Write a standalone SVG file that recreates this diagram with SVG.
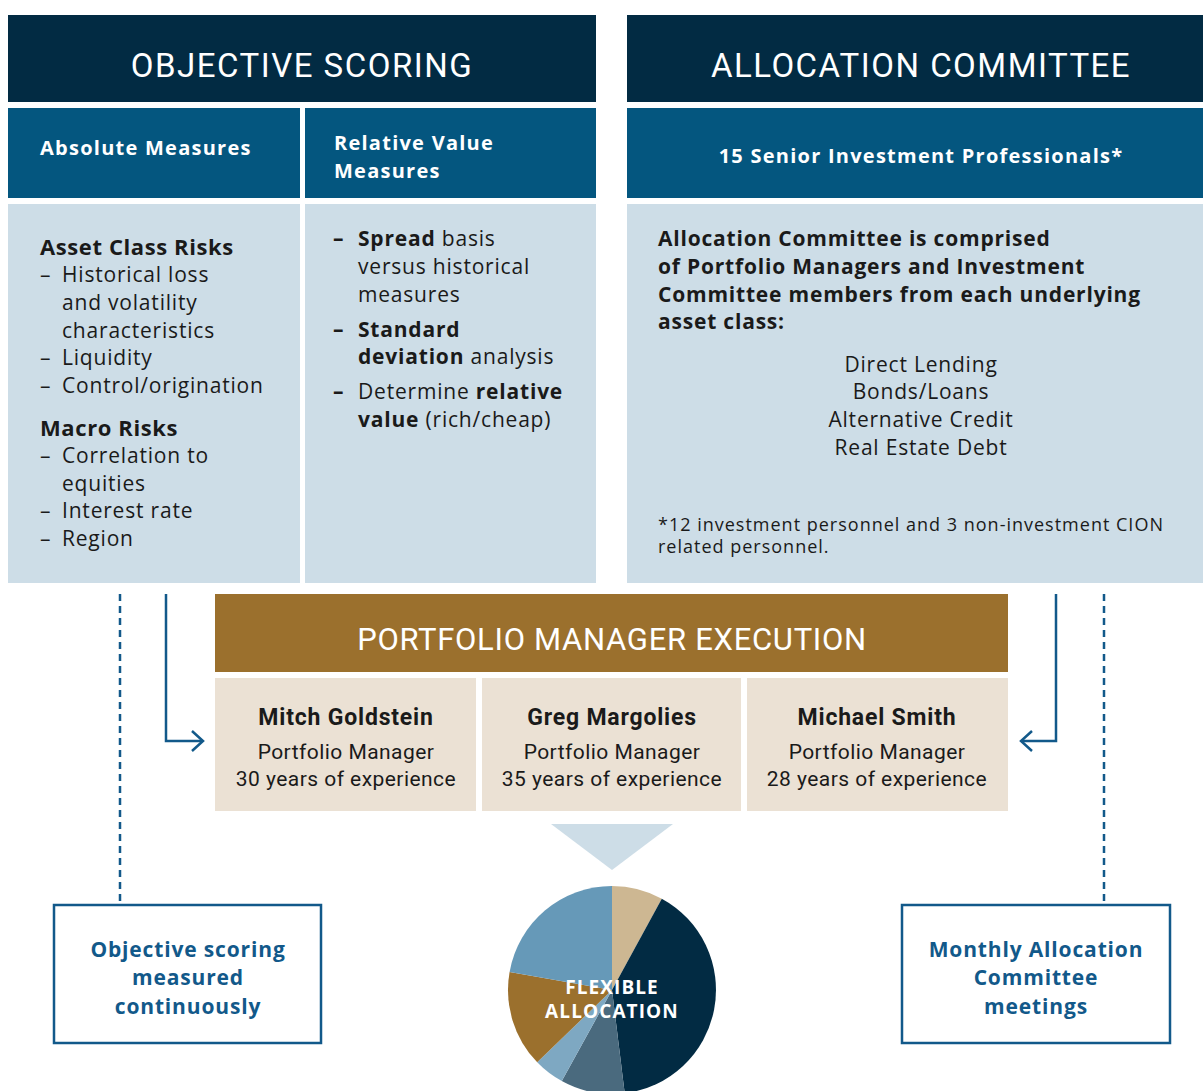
<svg xmlns="http://www.w3.org/2000/svg" width="1203" height="1091" viewBox="0 0 1203 1091">
<style>
.hd{fill:#022B43}
.sub{fill:#04567F}
.bd{fill:#CDDDE7}
.gold{fill:#9B702D}
.bg{fill:#EBE1D4}
.title{font-family:Roboto,"Liberation Sans",sans-serif;font-size:33px;letter-spacing:1.5px;fill:#fff;text-anchor:middle}
.gtitle{font-family:Roboto,"Liberation Sans",sans-serif;font-size:31px;letter-spacing:0.7px;fill:#fff;text-anchor:middle}
.subt{font-family:"Open Sans","Noto Sans","Liberation Sans",sans-serif;font-size:20px;font-weight:700;letter-spacing:1.25px;fill:#fff}
.body{font-family:"Open Sans","Noto Sans","Liberation Sans",sans-serif;font-size:21px;letter-spacing:0.8px;fill:#1A1A1A}
.b{font-weight:700}
.pm{font-family:Roboto,"Liberation Sans",sans-serif;fill:#1A1A1A;text-anchor:middle}
.pmn{font-size:23px;font-weight:700;letter-spacing:0.8px}
.pmr{font-size:21px;letter-spacing:0.45px}
.box{fill:#fff;stroke:#12598A;stroke-width:2.5}
.boxt{font-family:"Open Sans","Noto Sans","Liberation Sans",sans-serif;font-size:21px;font-weight:700;letter-spacing:0.85px;fill:#12598A;text-anchor:middle}
.pie{font-family:"Open Sans","Noto Sans","Liberation Sans",sans-serif;font-size:19px;font-weight:700;letter-spacing:1.1px;fill:#fff;text-anchor:middle}
.conn{fill:none;stroke:#12598A;stroke-width:2.5}
.dash{stroke-dasharray:7 5}
</style>
<rect width="1203" height="1091" fill="#fff"/>

<g id="objective-scoring">
<rect class="hd" x="8" y="15" width="588" height="87"/>
<text class="title" x="302" y="77">OBJECTIVE SCORING</text>
</g>

<g id="absolute-measures">
<rect class="sub" x="8" y="108" width="292" height="90"/>
<text class="subt" x="40" y="155">Absolute Measures</text>
<rect class="bd" x="8" y="204" width="292" height="379"/>
<g class="body">
<text class="b" x="40" y="255" style="font-size:22px;letter-spacing:0.6px">Asset Class Risks</text>
<text x="40" y="282">–</text><text x="62" y="282">Historical loss</text>
<text x="62" y="310">and volatility</text>
<text x="62" y="338">characteristics</text>
<text x="40" y="365">–</text><text x="62" y="365">Liquidity</text>
<text x="40" y="393">–</text><text x="62" y="393">Control/origination</text>
<text class="b" x="40" y="436" style="font-size:22px;letter-spacing:0.6px">Macro Risks</text>
<text x="40" y="463">–</text><text x="62" y="463">Correlation to</text>
<text x="62" y="491">equities</text>
<text x="40" y="518">–</text><text x="62" y="518">Interest rate</text>
<text x="40" y="546">–</text><text x="62" y="546">Region</text>
</g>
</g>

<g id="relative-value-measures">
<rect class="sub" x="305" y="108" width="291" height="90"/>
<text class="subt" x="334" y="150">Relative Value</text>
<text class="subt" x="334" y="178">Measures</text>
<rect class="bd" x="305" y="204" width="291" height="379"/>
<g class="body">
<text class="b" x="333" y="246">–</text><text x="358" y="246"><tspan class="b">Spread</tspan> basis</text>
<text x="358" y="274">versus historical</text>
<text x="358" y="302">measures</text>
<text class="b" x="333" y="337">–</text><text class="b" x="358" y="337">Standard</text>
<text x="358" y="364"><tspan class="b">deviation</tspan> analysis</text>
<text class="b" x="333" y="399">–</text><text x="358" y="399">Determine <tspan class="b">relative</tspan></text>
<text x="358" y="427"><tspan class="b">value</tspan> (rich/cheap)</text>
</g>
</g>

<g id="allocation-committee">
<rect class="hd" x="627" y="15" width="576" height="87"/>
<text class="title" x="921" y="77">ALLOCATION COMMITTEE</text>
<rect class="sub" x="627" y="108" width="576" height="90"/>
<text class="subt" x="921" y="163" text-anchor="middle">15 Senior Investment Professionals*</text>
<rect class="bd" x="627" y="204" width="576" height="379"/>
<g class="body">
<text class="b" x="658" y="246">Allocation Committee is comprised</text>
<text class="b" x="658" y="274">of Portfolio Managers and Investment</text>
<text class="b" x="658" y="302">Committee members from each underlying</text>
<text class="b" x="658" y="329">asset class:</text>
<g text-anchor="middle">
<text x="921" y="372">Direct Lending</text>
<text x="921" y="399">Bonds/Loans</text>
<text x="921" y="427">Alternative Credit</text>
<text x="921" y="455">Real Estate Debt</text>
</g>
<text x="658" y="531" style="font-size:18px;letter-spacing:1px">*12 investment personnel and 3 non-investment CION</text>
<text x="658" y="553" style="font-size:18px;letter-spacing:1px">related personnel.</text>
</g>
</g>

<g id="portfolio-manager-execution">
<rect class="gold" x="215" y="594" width="793" height="78"/>
<text class="gtitle" x="612" y="650">PORTFOLIO MANAGER EXECUTION</text>
</g>

<g id="pm-goldstein">
<rect class="bg" x="215" y="678" width="261" height="133"/>
<text class="pm pmn" x="346" y="725">Mitch Goldstein</text>
<text class="pm pmr" x="346" y="759">Portfolio Manager</text>
<text class="pm pmr" x="346" y="786">30 years of experience</text>
</g>
<g id="pm-margolies">
<rect class="bg" x="482" y="678" width="259" height="133"/>
<text class="pm pmn" x="612" y="725">Greg Margolies</text>
<text class="pm pmr" x="612" y="759">Portfolio Manager</text>
<text class="pm pmr" x="612" y="786">35 years of experience</text>
</g>
<g id="pm-smith">
<rect class="bg" x="747" y="678" width="261" height="133"/>
<text class="pm pmn" x="877" y="725">Michael Smith</text>
<text class="pm pmr" x="877" y="759">Portfolio Manager</text>
<text class="pm pmr" x="877" y="786">28 years of experience</text>
</g>

<g id="flexible-allocation">
<polygon points="551,824 673,824 612,870" fill="#CDDDE7"/>
<g transform="translate(612,990)">
<path d="M0,0 L0,-104 A104,104 0 0 1 49.8,-91.3 Z" fill="#CDB792"/>
<path d="M0,0 L49.8,-91.3 A104,104 0 0 1 12.7,103.2 Z" fill="#022B43"/>
<path d="M0,0 L12.7,103.2 A104,104 0 0 1 -50.2,91.1 Z" fill="#4A6A7E"/>
<path d="M0,0 L-50.2,91.1 A104,104 0 0 1 -74.8,72.3 Z" fill="#7EA8C2"/>
<path d="M0,0 L-74.8,72.3 A104,104 0 0 1 -102.4,-18.1 Z" fill="#9B702D"/>
<path d="M0,0 L-102.4,-18.1 A104,104 0 0 1 0,-104 Z" fill="#6699B8"/>
</g>
<text class="pie" x="612" y="994">FLEXIBLE</text>
<text class="pie" x="612" y="1018">ALLOCATION</text>
</g>

<g id="scoring-continuous">
<rect class="box" x="54" y="905" width="267" height="138"/>
<text class="boxt" x="188" y="957">Objective scoring</text>
<text class="boxt" x="188" y="985">measured</text>
<text class="boxt" x="188" y="1014">continuously</text>
</g>
<g id="monthly-meetings">
<rect class="box" x="902" y="905" width="268" height="138"/>
<text class="boxt" x="1036" y="957">Monthly Allocation</text>
<text class="boxt" x="1036" y="985">Committee</text>
<text class="boxt" x="1036" y="1014">meetings</text>
</g>

<g id="connectors">
<line class="conn dash" x1="120" y1="594" x2="120" y2="904"/>
<line class="conn dash" x1="1104" y1="594" x2="1104" y2="904"/>
<polyline class="conn" points="166,594 166,741 203,741"/>
<polyline class="conn" points="192,731 203,741 192,751"/>
<polyline class="conn" points="1056,594 1056,741 1021,741"/>
<polyline class="conn" points="1032,731 1021,741 1032,751"/>
</g>
</svg>
